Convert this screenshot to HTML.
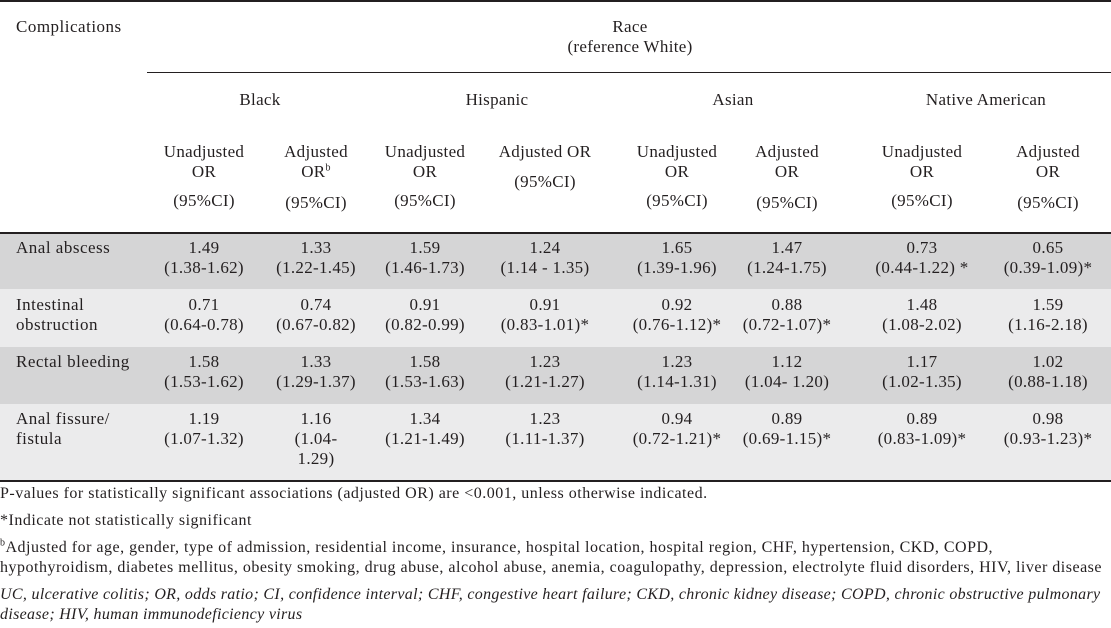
<!DOCTYPE html>
<html><head><meta charset="utf-8"><style>
body{margin:0;width:1111px;height:628px;background:#fff;position:relative;overflow:hidden;font-family:"Liberation Serif",serif;color:#231f20;}
.t{position:absolute;white-space:nowrap;font-size:17px;letter-spacing:0.5px;line-height:20px;}
.c{position:absolute;white-space:nowrap;font-size:17px;letter-spacing:0.3px;line-height:20px;transform:translateX(-50%);text-align:center;}
.f{position:absolute;left:0;white-space:nowrap;font-size:16px;letter-spacing:0.5px;line-height:20px;}
.bg{position:absolute;left:0;width:1111px;}
.ln{position:absolute;background:#231f20;height:1.5px;}
</style></head><body>
<div class="ln" style="left:0;top:0;width:1111px"></div>
<div class="ln" style="left:147px;top:72px;width:964px;height:1px"></div>
<div class="bg" style="top:233px;height:56px;background:#d5d5d6"></div>
<div class="bg" style="top:289px;height:58px;background:#ebebec"></div>
<div class="bg" style="top:347px;height:57px;background:#d5d5d6"></div>
<div class="bg" style="top:404px;height:77px;background:#ebebec"></div>
<div class="ln" style="left:0;top:232px;width:1111px"></div>
<div class="ln" style="left:0;top:480px;width:1111px"></div>

<div class="t" style="left:16px;top:17px">Complications</div>
<div class="c" style="left:630px;top:17px">Race<br>(reference White)</div>
<div class="c" style="left:260px;top:90px">Black</div>
<div class="c" style="left:497px;top:90px">Hispanic</div>
<div class="c" style="left:733px;top:90px">Asian</div>
<div class="c" style="left:986px;top:90px">Native American</div>

<div class="c" style="left:204px;top:142px">Unadjusted<br>OR</div><div class="c" style="left:204px;top:191px">(95%CI)</div>
<div class="c" style="left:316px;top:142px">Adjusted<br>OR<sup style="font-size:10px;line-height:0">b</sup></div><div class="c" style="left:316px;top:193px">(95%CI)</div>
<div class="c" style="left:425px;top:142px">Unadjusted<br>OR</div><div class="c" style="left:425px;top:191px">(95%CI)</div>
<div class="c" style="left:545px;top:142px">Adjusted OR</div><div class="c" style="left:545px;top:172px">(95%CI)</div>
<div class="c" style="left:677px;top:142px">Unadjusted<br>OR</div><div class="c" style="left:677px;top:191px">(95%CI)</div>
<div class="c" style="left:787px;top:142px">Adjusted<br>OR</div><div class="c" style="left:787px;top:193px">(95%CI)</div>
<div class="c" style="left:922px;top:142px">Unadjusted<br>OR</div><div class="c" style="left:922px;top:191px">(95%CI)</div>
<div class="c" style="left:1048px;top:142px">Adjusted<br>OR</div><div class="c" style="left:1048px;top:193px">(95%CI)</div>

<div class="t" style="left:16px;top:238px">Anal abscess</div>
<div class="c" style="left:204px;top:238px">1.49<br>(1.38-1.62)</div>
<div class="c" style="left:316px;top:238px">1.33<br>(1.22-1.45)</div>
<div class="c" style="left:425px;top:238px">1.59<br>(1.46-1.73)</div>
<div class="c" style="left:545px;top:238px">1.24<br>(1.14 - 1.35)</div>
<div class="c" style="left:677px;top:238px">1.65<br>(1.39-1.96)</div>
<div class="c" style="left:787px;top:238px">1.47<br>(1.24-1.75)</div>
<div class="c" style="left:922px;top:238px">0.73<br>(0.44-1.22) *</div>
<div class="c" style="left:1048px;top:238px">0.65<br>(0.39-1.09)*</div>

<div class="t" style="left:16px;top:295px">Intestinal<br>obstruction</div>
<div class="c" style="left:204px;top:295px">0.71<br>(0.64-0.78)</div>
<div class="c" style="left:316px;top:295px">0.74<br>(0.67-0.82)</div>
<div class="c" style="left:425px;top:295px">0.91<br>(0.82-0.99)</div>
<div class="c" style="left:545px;top:295px">0.91<br>(0.83-1.01)*</div>
<div class="c" style="left:677px;top:295px">0.92<br>(0.76-1.12)*</div>
<div class="c" style="left:787px;top:295px">0.88<br>(0.72-1.07)*</div>
<div class="c" style="left:922px;top:295px">1.48<br>(1.08-2.02)</div>
<div class="c" style="left:1048px;top:295px">1.59<br>(1.16-2.18)</div>

<div class="t" style="left:16px;top:352px">Rectal bleeding</div>
<div class="c" style="left:204px;top:352px">1.58<br>(1.53-1.62)</div>
<div class="c" style="left:316px;top:352px">1.33<br>(1.29-1.37)</div>
<div class="c" style="left:425px;top:352px">1.58<br>(1.53-1.63)</div>
<div class="c" style="left:545px;top:352px">1.23<br>(1.21-1.27)</div>
<div class="c" style="left:677px;top:352px">1.23<br>(1.14-1.31)</div>
<div class="c" style="left:787px;top:352px">1.12<br>(1.04- 1.20)</div>
<div class="c" style="left:922px;top:352px">1.17<br>(1.02-1.35)</div>
<div class="c" style="left:1048px;top:352px">1.02<br>(0.88-1.18)</div>

<div class="t" style="left:16px;top:409px">Anal fissure/<br>fistula</div>
<div class="c" style="left:204px;top:409px">1.19<br>(1.07-1.32)</div>
<div class="c" style="left:316px;top:409px">1.16<br>(1.04-<br>1.29)</div>
<div class="c" style="left:425px;top:409px">1.34<br>(1.21-1.49)</div>
<div class="c" style="left:545px;top:409px">1.23<br>(1.11-1.37)</div>
<div class="c" style="left:677px;top:409px">0.94<br>(0.72-1.21)*</div>
<div class="c" style="left:787px;top:409px">0.89<br>(0.69-1.15)*</div>
<div class="c" style="left:922px;top:409px">0.89<br>(0.83-1.09)*</div>
<div class="c" style="left:1048px;top:409px">0.98<br>(0.93-1.23)*</div>

<div class="f" style="top:484px">P-values for statistically significant associations (adjusted OR) are &lt;0.001, unless otherwise indicated.</div>
<div class="f" style="top:511px">*Indicate not statistically significant</div>
<div class="f" style="top:538px"><sup style="font-size:10px;line-height:0">b</sup>Adjusted for age, gender, type of admission, residential income, insurance, hospital location, hospital region, CHF, hypertension, CKD, COPD,<br>hypothyroidism, diabetes mellitus, obesity smoking, drug abuse, alcohol abuse, anemia, coagulopathy, depression, electrolyte fluid disorders, HIV, liver disease</div>
<div class="f" style="top:585px;font-style:italic;letter-spacing:0.32px">UC, ulcerative colitis; OR, odds ratio; CI, confidence interval; CHF, congestive heart failure; CKD, chronic kidney disease; COPD, chronic obstructive pulmonary<br>disease; HIV, human immunodeficiency virus</div>
</body></html>
